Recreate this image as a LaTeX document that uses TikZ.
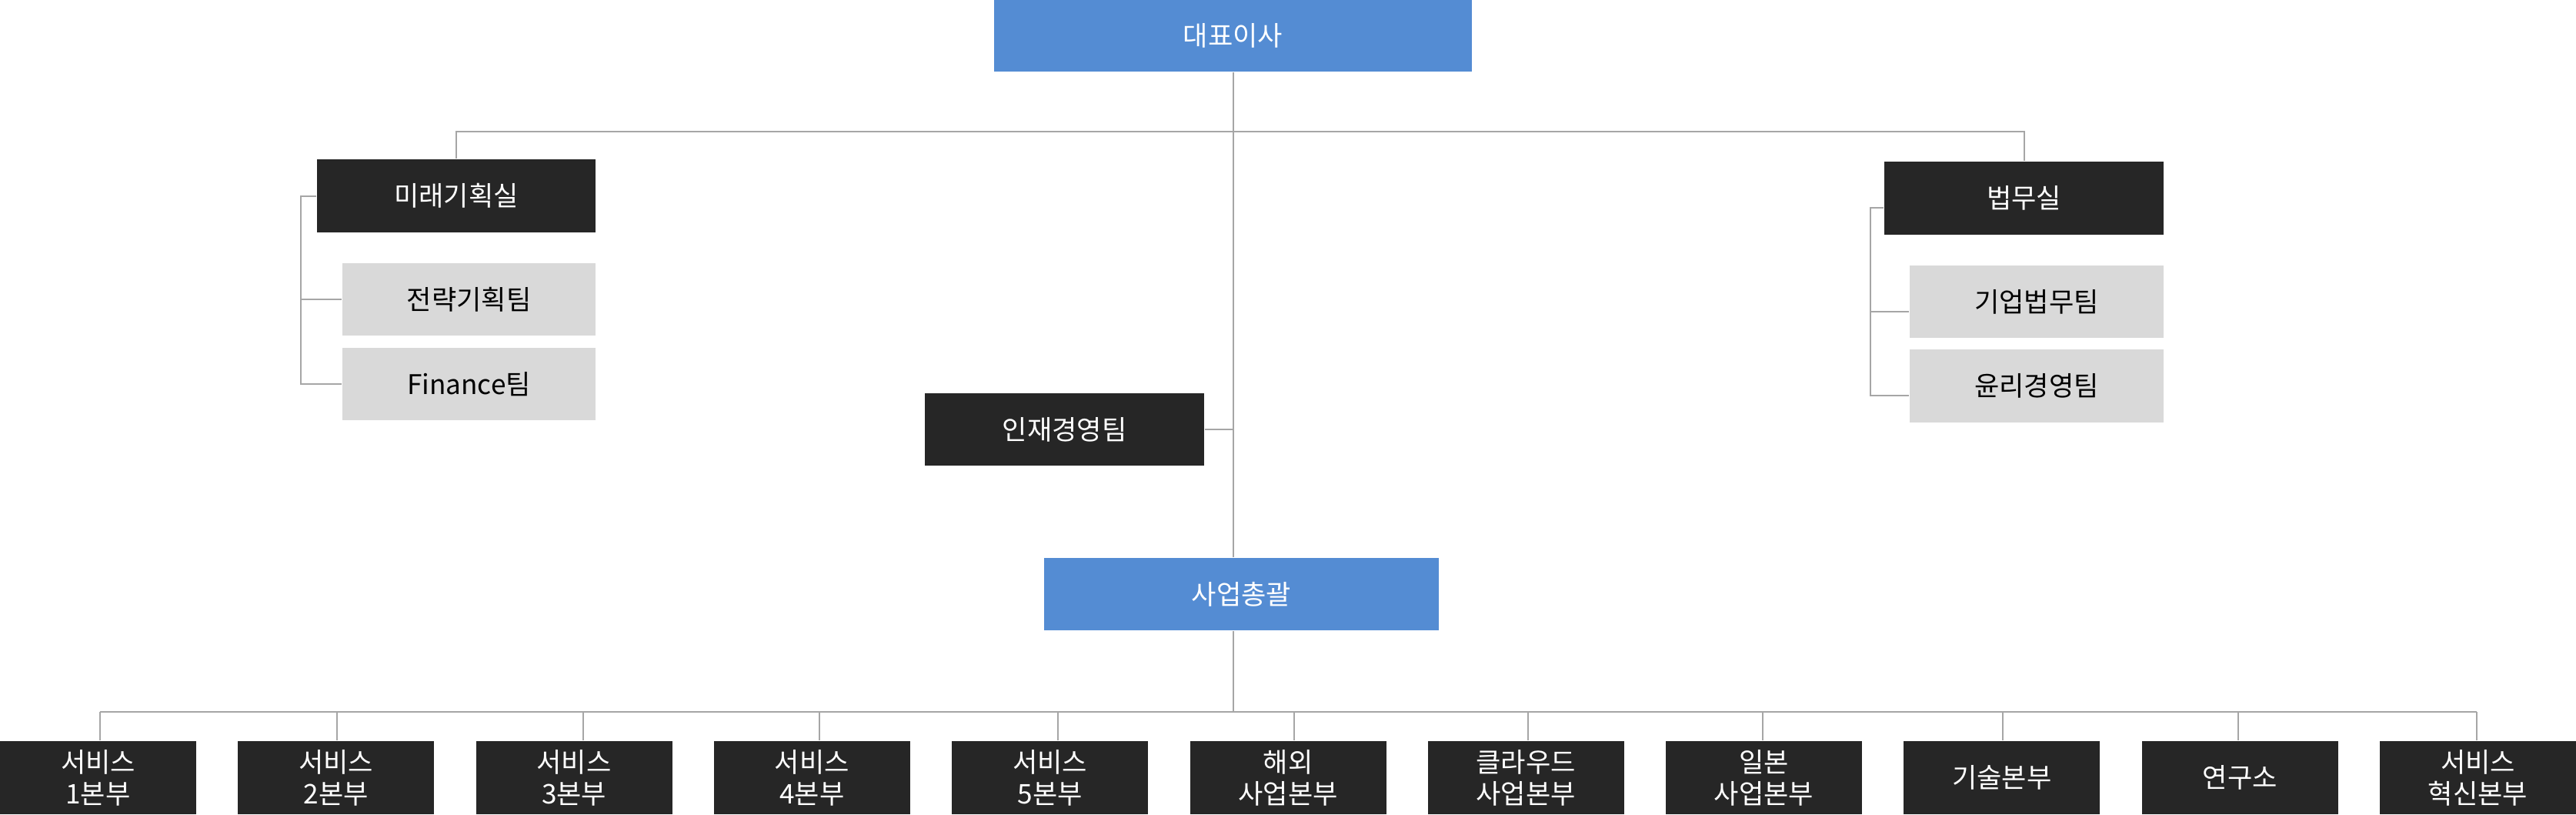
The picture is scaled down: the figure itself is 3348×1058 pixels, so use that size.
\documentclass[tikz,border=0pt]{standalone}
\usepackage{fontspec}
\setmainfont{Noto Sans CJK KR}
\definecolor{ceoblue}{HTML}{548CD3}
\definecolor{darkbox}{HTML}{262626}
\definecolor{lightbox}{HTML}{D9D9D9}
\definecolor{linegray}{HTML}{A6A6A6}
\begin{document}
\begin{tikzpicture}[x=0.1mm,y=-0.1mm,
  base/.style={rectangle, inner sep=0pt, align=center, font=\fontsize{10}{11.6}\selectfont},
  bluebox/.style={base, fill=ceoblue, text=white},
  darknode/.style={base, fill=darkbox, text=white},
  lightnode/.style={base, fill=lightbox, text=black},
  conn/.style={draw=linegray, line width=0.2mm}]
\useasboundingbox (0,0) rectangle (3348,1058);
% top
\node[bluebox, minimum width=62.1mm, minimum height=9.3mm] (ceo) at (1602.5,46.5) {대표이사};
% left office
\node[darknode, minimum width=36.2mm, minimum height=9.5mm] (mirae) at (593,254.5) {미래기획실};
\node[lightnode, minimum width=32.9mm, minimum height=9.4mm] (jeonryak) at (609.5,389) {전략기획팀};
\node[lightnode, minimum width=32.9mm, minimum height=9.4mm] (finance) at (609.5,499) {Finance팀};
% right office
\node[darknode, minimum width=36.3mm, minimum height=9.5mm] (beop) at (2630.5,257.5) {법무실};
\node[lightnode, minimum width=33mm, minimum height=9.4mm] (gieop) at (2647,392) {기업법무팀};
\node[lightnode, minimum width=33mm, minimum height=9.5mm] (yunri) at (2647,501.5) {윤리경영팀};
% middle
\node[darknode, minimum width=36.3mm, minimum height=9.4mm] (injae) at (1383.5,558) {인재경영팀};
\node[bluebox, minimum width=51.3mm, minimum height=9.4mm] (saeop) at (1613.5,772) {사업총괄};
% bottom row
\foreach \i/\t in {1/{서비스\\1본부},2/{서비스\\2본부},3/{서비스\\3본부},4/{서비스\\4본부},5/{서비스\\5본부},6/{해외\\사업본부},7/{클라우드\\사업본부},8/{일본\\사업본부},9/{기술본부},10/{연구소},11/{서비스\\혁신본부}}{
  \node[darknode, minimum width=25.5mm, minimum height=9.5mm] (b\i) at ({127.5+309.3*(\i-1)},1010.5) {\t};
}
% connectors
\coordinate (tb) at (0,171);
\coordinate (bus) at (0,925);
\coordinate (lb) at (391,0);
\coordinate (rb) at (2431,0);
\draw[conn] (ceo.south) -- (ceo.south |- saeop.north);
\draw[conn] (mirae.north) -- (mirae.north |- tb) -- (beop.north |- tb) -- (beop.north);
\draw[conn] (mirae.west) -- (mirae.west -| lb) |- (finance.west);
\draw[conn] (lb |- jeonryak.west) -- (jeonryak.west);
\draw[conn] ([yshift=-1.25mm]beop.west) -- ([yshift=-1.25mm]beop.west -| rb) |- ([yshift=-1.25mm]yunri.west);
\draw[conn] ([yshift=-1.25mm]rb |- gieop.west) -- ([yshift=-1.25mm]gieop.west);
\draw[conn] (injae.east) -- (injae.east -| ceo.south);
\draw[conn] (ceo.south |- saeop.south) -- (ceo.south |- bus);
\draw[conn] ([xshift=0.25mm]b1.north |- bus) -- ([xshift=-0.15mm]b11.north |- bus);
\foreach \i/\d in {1/0.25,2/0.1,3/1.2,4/1.0,5/1.0,6/0.8,7/0.3,8/-0.15,9/0.1,10/-0.2,11/-0.15}{
  \draw[conn] ([xshift=\d mm]b\i.north |- bus) -- ([xshift=\d mm]b\i.north);
}
\end{tikzpicture}
\end{document}
